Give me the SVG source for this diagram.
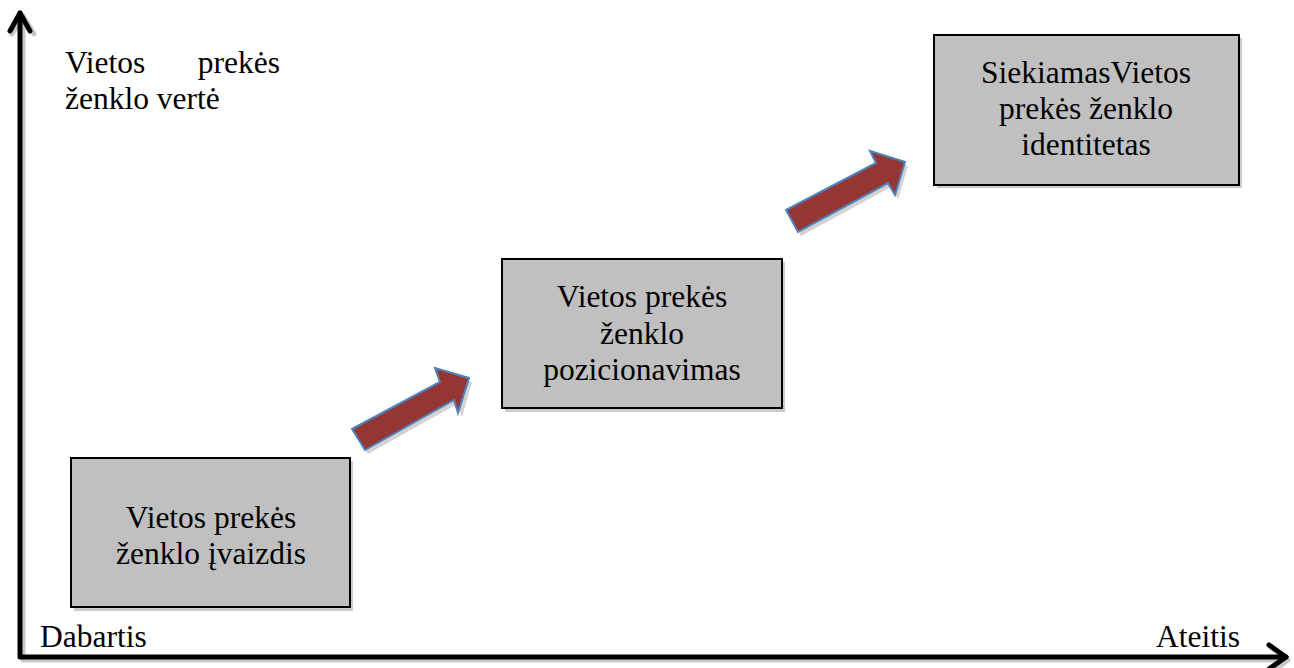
<svg xmlns="http://www.w3.org/2000/svg" width="1294" height="668" viewBox="0 0 1294 668">
  <rect width="1294" height="668" fill="#fff"/>

  <!-- axes: soft grey shadow first, then the black lines -->
  <g id="axes" fill="none" stroke-width="5" stroke-linecap="round" stroke-linejoin="round">
    <g stroke="#c8c8c8">
      <path d="M23 16 V660 H1288"/>
      <path d="M12 34 L23 16 L34 34"/>
      <path d="M1272 648 L1288 660 L1272 672"/>
    </g>
    <g stroke="#000">
      <path d="M20 13 V657 H1286"/>
      <path d="M10 31 L20 13 L30 31"/>
      <path d="M1269 645 L1286 657 L1269 669"/>
    </g>
  </g>

  <!-- axis labels -->
  <g id="axis-labels" fill="#000" font-family="Liberation Serif" font-size="31.5">
    <text x="65" y="73">Vietos</text>
    <text x="280" y="73" text-anchor="end">prekės</text>
    <text x="65" y="109">ženklo vertė</text>
    <text x="40" y="647">Dabartis</text>
    <text x="1240" y="647" text-anchor="end">Ateitis</text>
  </g>

  <!-- step arrows -->
  <g id="connectors">
    <g fill="#d2d2d2">
      <polygon points="355,433 443,386 438,372 472,382 462,417 457,404 368,454"/>
      <polygon points="789,214 879,167 873,155 908,166 898,199 891,187 801,236"/>
    </g>
    <g fill="#943634" stroke="#4f81bd" stroke-width="2">
      <polygon id="step-1" points="352,429 440,382 435,368 469,378 458,413 454,400 365,450"/>
      <polygon id="step-2" points="786,210 876,163 870,151 905,162 895,195 888,183 798,232"/>
    </g>
  </g>

  <!-- stage boxes -->
  <g id="nodes" font-family="Liberation Serif" font-size="31.5" text-anchor="middle">
    <g id="node-image">
      <rect x="74" y="461" width="279" height="150" fill="#cbcbcb"/>
      <rect x="71" y="458" width="279" height="149" fill="#c0c0c0" stroke="#000" stroke-width="2"/>
      <text x="211" y="528">Vietos prekės</text>
      <text x="211" y="564">ženklo įvaizdis</text>
    </g>

    <g id="node-positioning">
      <rect x="505" y="262" width="280" height="150" fill="#cbcbcb"/>
      <rect x="502" y="259" width="280" height="149" fill="#c0c0c0" stroke="#000" stroke-width="2"/>
      <text x="642" y="307">Vietos prekės</text>
      <text x="642" y="344">ženklo</text>
      <text x="642" y="380">pozicionavimas</text>
    </g>

    <g id="node-identity">
      <rect x="937" y="38" width="305" height="150" fill="#cbcbcb"/>
      <rect x="934" y="35" width="305" height="150" fill="#c0c0c0" stroke="#000" stroke-width="2"/>
      <text x="1086" y="83">SiekiamasVietos</text>
      <text x="1086" y="119">prekės ženklo</text>
      <text x="1086" y="155">identitetas</text>
    </g>
  </g>
</svg>
